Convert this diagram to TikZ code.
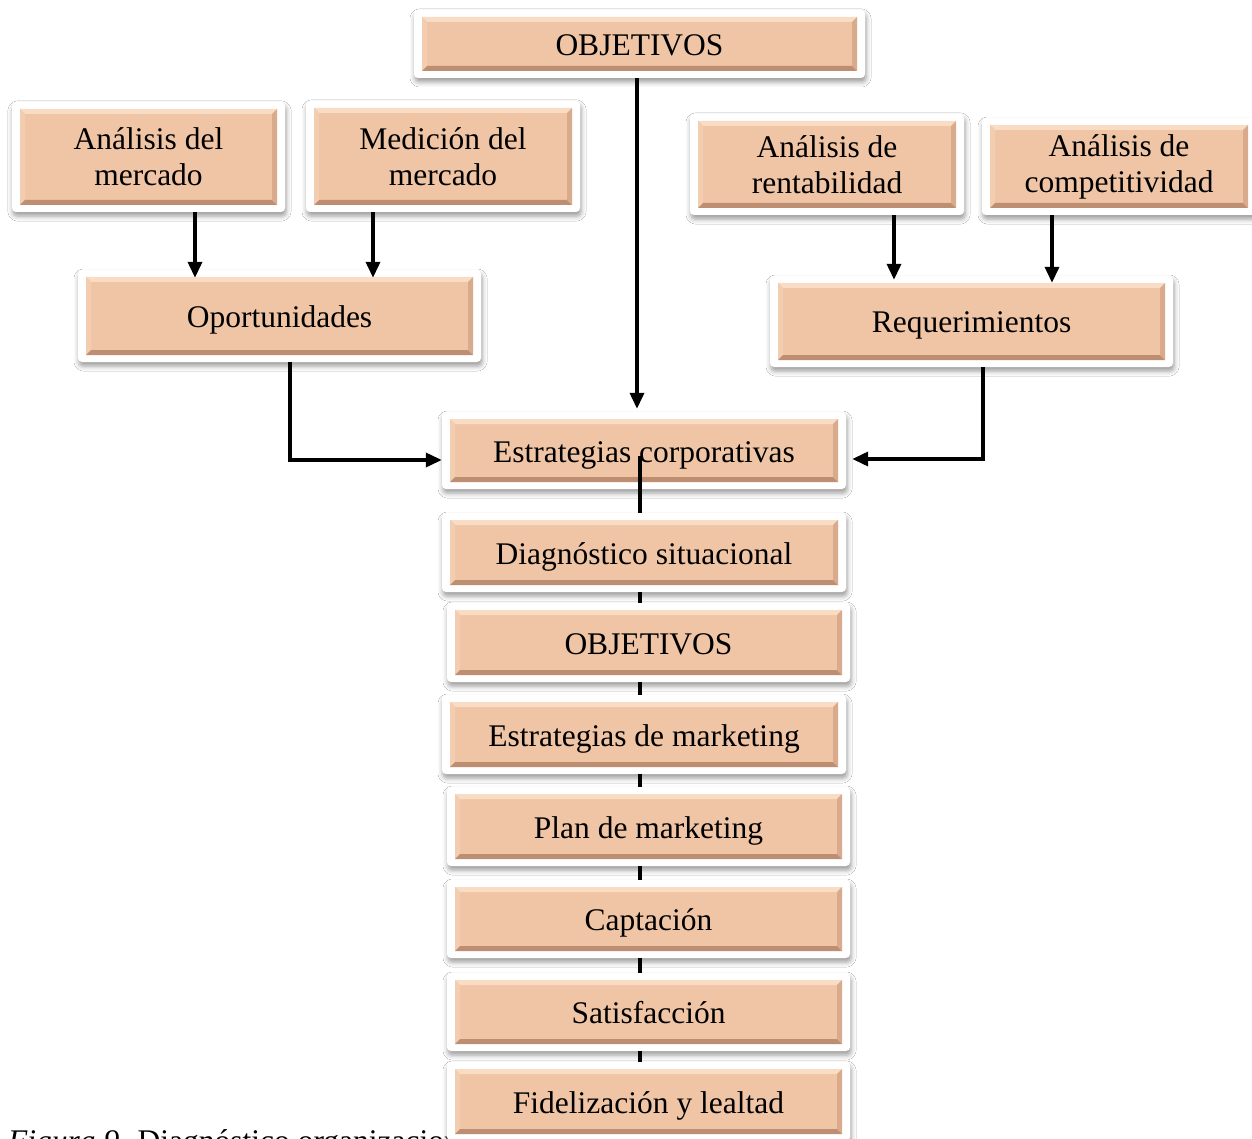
\documentclass[tikz,border=0pt]{standalone}
\usepackage{fontspec}
\setmainfont{Liberation Serif}
\usetikzlibrary{arrows.meta,shadows.blur,calc}
\definecolor{peach}{HTML}{F0C5A6}
\definecolor{peachlt}{HTML}{F9DCC4}
\definecolor{peachml}{HTML}{F3CDB0}
\definecolor{peachdk}{HTML}{BE8E73}
\definecolor{peachmd}{HTML}{D9AB8C}
\tikzset{
  bx/.style={fill=white, rounded corners=4pt,
    blur shadow={shadow xshift=1pt, shadow yshift=-4pt, shadow blur radius=5pt, shadow opacity=40},
    inner sep=0pt, align=center, text=black,
    font=\fontsize{31.5}{36}\selectfont,
    path picture={
      \coordinate (nw) at ([shift={(8pt,-7pt)}]path picture bounding box.north west);
      \coordinate (ne) at ([shift={(-8pt,-7pt)}]path picture bounding box.north east);
      \coordinate (se) at ([shift={(-8pt,7pt)}]path picture bounding box.south east);
      \coordinate (sw) at ([shift={(8pt,7pt)}]path picture bounding box.south west);
      \fill[peach, sharp corners] (nw) -- (ne) -- (se) -- (sw) -- cycle;
      \fill[peachlt, sharp corners] (nw) -- (ne) -- ([shift={(-5pt,-5pt)}]ne) -- ([shift={(5pt,-5pt)}]nw) -- cycle;
      \fill[peachml, sharp corners] (nw) -- (sw) -- ([shift={(5pt,5pt)}]sw) -- ([shift={(5pt,-5pt)}]nw) -- cycle;
      \fill[peachdk, sharp corners] (sw) -- (se) -- ([shift={(-5pt,5pt)}]se) -- ([shift={(5pt,5pt)}]sw) -- cycle;
      \fill[peachmd, sharp corners] (ne) -- (se) -- ([shift={(-5pt,5pt)}]se) -- ([shift={(-5pt,-5pt)}]ne) -- cycle;
    }},
  one/.style={text height=23pt, text depth=0pt},
  two/.style={execute at begin node={\rule{0pt}{32pt}}},
  sz/.style 2 args={minimum width=#1, minimum height=#2},
  arr/.style={line width=3.5pt, -{Triangle[length=16pt,width=14pt]}},
  ln/.style={line width=3.5pt},
  captxt/.style={anchor=base west, inner sep=0pt, font=\fontsize{31.5}{36}\selectfont}
}
\begin{document}
\begin{tikzpicture}[x=1pt,y=-1pt]
\useasboundingbox (0,0) rectangle (1252,1139);
\clip (0,0) rectangle (1252,1139);
\fill[white] (0,0) rectangle (1252,1139);

\node[captxt] (cap9) at (8,1151) {\textit{Figura 9.} Diagnóstico organizacional};

\coordinate (c195) at (195,0);
\coordinate (c373) at (373,0);
\coordinate (c637) at (637,0);
\coordinate (c894) at (894,0);
\coordinate (c1052) at (1052,0);
\coordinate (c290) at (290,0);
\coordinate (c983) at (983,0);
\coordinate (c640) at (640,0);
\coordinate (r460) at (0,460);
\coordinate (r459) at (0,459);

\node[bx, one, sz={451pt}{68pt}] (obj1) at (639.5,44) {OBJETIVOS};
\node[bx, two, sz={273pt}{110pt}] (am) at (148.5,157) {Análisis del\\mercado};
\node[bx, two, sz={274pt}{111pt}] (mm) at (443,156.5) {Medición del\\mercado};
\node[bx, one, sz={403pt}{92pt}] (opo) at (279.5,316) {Oportunidades};
\node[bx, two, sz={274pt}{101pt}] (ar) at (827,164.5) {Análisis de\\rentabilidad};
\node[bx, two, sz={274pt}{97pt}] (ac) at (1119,166.5) {Análisis de\\competitividad};
\node[bx, one, sz={403pt}{91pt}] (req) at (971.5,321.5) {Requerimientos};
\node[bx, one, sz={404pt}{77pt}] (ec) at (644,450.5) {Estrategias corporativas};
\draw[ln] ($(ec.center -| c640)+(0,5)$) -- (ec.south -| c640);
\node[bx, one, sz={404pt}{79pt}] (ds) at (644,552.5) {Diagnóstico situacional};
\node[bx, one, sz={403pt}{79pt}] (obj2) at (648.5,642.5) {OBJETIVOS};
\node[bx, one, sz={404pt}{79pt}] (em) at (644,734.5) {Estrategias de marketing};
\node[bx, one, sz={403pt}{79pt}] (pm) at (648.5,826.5) {Plan de marketing};
\node[bx, one, sz={403pt}{78pt}] (capt) at (648.5,919) {Captación};
\node[bx, one, sz={403pt}{78pt}] (sat) at (648.5,1012) {Satisfacción};
\node[bx, one, sz={403pt}{79pt}] (fid) at (648.5,1101.5) {Fidelización y lealtad};

\draw[arr] (obj1.south -| c637) -- ([yshift=3pt]ec.north -| c637);
\draw[arr, shorten >=-8pt] (am.south -| c195) -- (opo.north -| c195);
\draw[arr, shorten >=-8pt] (mm.south -| c373) -- (opo.north -| c373);
\draw[arr, shorten >=-4pt] (ar.south -| c894) -- (req.north -| c894);
\draw[arr, shorten >=-7pt] (ac.south -| c1052) -- (req.north -| c1052);
\draw[arr] (opo.south -| c290) |- (ec.west |- r460);
\draw[arr, shorten >=6pt] (req.south -| c983) |- (ec.east |- r459);

\draw[ln] (ec.south -| c640) -- (ds.north -| c640);
\draw[ln] (ds.south -| c640) -- (obj2.north -| c640);
\draw[ln] (obj2.south -| c640) -- (em.north -| c640);
\draw[ln] (em.south -| c640) -- (pm.north -| c640);
\draw[ln] (pm.south -| c640) -- (capt.north -| c640);
\draw[ln] (capt.south -| c640) -- (sat.north -| c640);
\draw[ln] (sat.south -| c640) -- (fid.north -| c640);
\end{tikzpicture}
\end{document}
